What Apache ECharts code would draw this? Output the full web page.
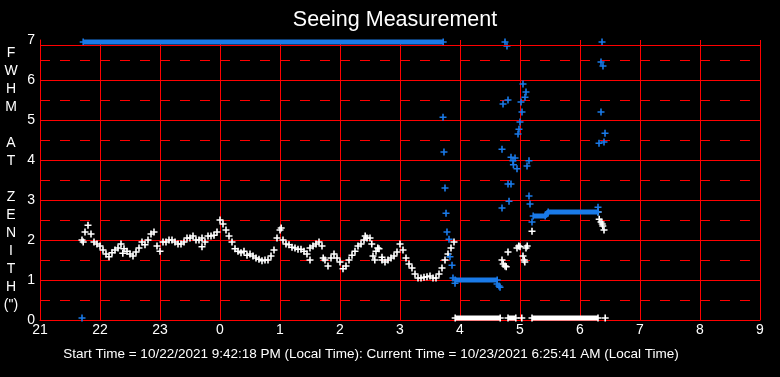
<!DOCTYPE html>
<html>
<head>
<meta charset="utf-8">
<script src="https://cdn.jsdelivr.net/npm/echarts@6/dist/echarts.min.js"></script>
<style>
  html, body { margin: 0; padding: 0; background: #000; }
  #seeing { width: 780px; height: 377px; }
</style>
</head>
<body>
<div id="seeing"></div>
<script>
// hours run 21 .. 33 (33 = 9 next morning), labels wrap at 24
var hourTicks = [21, 22, 23, 0, 1, 2, 3, 4, 5, 6, 7, 8, 9];

// main seeing curve, one value every 3 minutes from 21:42
var sampleStart = 21.70;
var sampleStep = 0.05;
var seeingFwhm = [
  2.0, 2.2, 2.37, 2.15, 1.95, 1.9, 1.85, 1.75, 1.65, 1.58,
  1.68, 1.75, 1.8, 1.9, 1.78, 1.72, 1.65, 1.6, 1.7, 1.8,
  1.95, 1.88, 2.0, 2.15, 2.2, 1.85, 1.72, 1.95, 1.95, 2.0,
  2.0, 1.95, 1.9, 1.9, 1.95, 2.05, 2.05, 2.1, 2.0, 2.0,
  2.05, 1.95, 2.1, 2.1, 2.12, 2.2, 2.5, 2.4, 2.25, 2.1,
  1.95, 1.78, 1.72, 1.68, 1.72, 1.62, 1.65, 1.6, 1.55, 1.52,
  1.48, 1.5, 1.5, 1.6, 1.75, 2.05, 2.25, 2.0, 1.9, 1.88,
  1.82, 1.8, 1.77, 1.77, 1.72, 1.65, 1.8, 1.85, 1.9, 1.95,
  1.85, 1.5, 1.35, 1.55, 1.65, 1.55, 1.45, 1.28, 1.35, 1.5,
  1.62, 1.72, 1.85, 1.9, 2.0, 2.05, 2.05, 1.6, 1.72, 1.78,
  1.5, 1.45, 1.5, 1.55, 1.6, 1.7, 1.9, 1.75, 1.55, 1.4,
  1.3, 1.15, 1.05, 1.05, 1.07, 1.08, 1.1, 1.05, 1.05, 1.15,
  1.3, 1.5, 1.65, 1.8, 1.95
];

// scattered white points [hour, fwhm]
var seeingExtra = [
  [21.72, 1.95], [22.38, 1.67], [23.70, 1.83], [25.02, 2.3], [25.50, 1.5],
  [25.72, 1.55], [26.42, 2.1], [26.53, 1.9], [26.58, 1.5], [26.63, 1.8],
  [26.70, 1.57],
  [28.70, 1.5], [28.72, 1.4], [28.75, 1.35], [28.77, 1.33], [28.80, 1.7],
  [28.95, 1.8], [28.98, 1.85], [29.00, 1.83], [29.05, 1.6], [29.07, 1.5],
  [29.08, 1.45], [29.10, 1.8], [29.12, 1.85], [29.20, 2.22],
  [30.30, 2.7], [30.32, 2.52], [30.35, 2.45], [30.37, 2.4], [30.38, 2.35], [30.40, 2.25]
];

// white points sitting on the floor
var seeingFloorRuns = [
  [[27.92, 0.05], [28.67, 0.05]],
  [[28.80, 0.05], [28.93, 0.05]],
  [[29.20, 0.05], [30.30, 0.05]]
];
var seeingFloorSingles = [[29.03, 0.05], [30.42, 0.05]];

// blue points
var blueRuns = [
  [[21.72, 6.95], [27.72, 6.95]],
  [[27.92, 1.0], [28.62, 1.0]],
  [[29.22, 2.6], [29.42, 2.6], [29.47, 2.7], [30.30, 2.7]]
];
var blueScatter = [
  [21.70, 0.05],
  [27.717, 5.07], [27.733, 4.2], [27.75, 3.3], [27.767, 2.67], [27.783, 2.2],
  [27.817, 2.02], [27.833, 1.58], [27.867, 1.37], [27.883, 1.05], [27.917, 0.92],
  [28.617, 0.9], [28.65, 0.85], [28.667, 0.82],
  [28.75, 6.95], [28.783, 6.85], [28.717, 5.4], [28.80, 5.5], [28.70, 4.27],
  [28.85, 4.07], [28.883, 3.98], [28.89, 3.88], [28.917, 4.05], [28.95, 3.78],
  [28.80, 3.4], [28.85, 3.4], [28.817, 2.97], [28.70, 2.8],
  [29.05, 5.9], [29.10, 5.7], [29.083, 5.57], [29.017, 5.45], [29.033, 5.2],
  [29.00, 4.95], [28.983, 4.77], [28.967, 4.65], [29.15, 3.98], [29.117, 3.85],
  [29.15, 3.1], [29.167, 2.9], [29.20, 2.45],
  [30.30, 2.82], [30.367, 6.95], [30.35, 6.45], [30.383, 6.35], [30.35, 5.2],
  [30.417, 4.67], [30.317, 4.42], [30.40, 4.45]
];

var WHITE = '#ffffff';
var BLUE = '#1a7ae8';
var RED = '#ff0000';
var FONT = 'Liberation Sans, Arial, sans-serif';
// plus sign, arms about 1.6px at size 7
var PLUS = 'path://M2.7,0H4.3V2.7H7V4.3H4.3V7H2.7V4.3H0V2.7H2.7Z';

var chart = echarts.init(document.getElementById('seeing'));

var curve = seeingFwhm.map(function (v, i) {
  return [sampleStart + i * sampleStep, v];
});

function bandSeries(data, color) {
  return {
    type: 'line',
    data: data,
    symbol: PLUS,
    symbolSize: 7,
    showSymbol: true,
    lineStyle: { color: color, width: 5 },
    itemStyle: { color: color },
    animation: false,
    silent: true
  };
}

function dotSeries(data, color) {
  return {
    type: 'scatter',
    data: data,
    symbol: PLUS,
    symbolSize: 7,
    itemStyle: { color: color, opacity: 1 },
    animation: false,
    silent: true
  };
}

var series = [];
var main = dotSeries(curve, WHITE);
main.markLine = {
  silent: true,
  symbol: 'none',
  label: { show: false },
  lineStyle: { color: RED, type: 'solid', width: 1 },
  data: [{ yAxis: 6.875 }]
};
series.push(main);
series.push(dotSeries(seeingExtra, WHITE));
series.push(dotSeries(seeingFloorSingles, WHITE));
seeingFloorRuns.forEach(function (r) { series.push(bandSeries(r, WHITE)); });
blueRuns.forEach(function (r) { series.push(bandSeries(r, BLUE)); });
series.push(dotSeries(blueScatter, BLUE));

var option = {
  backgroundColor: '#000',
  animation: false,
  grid: { left: 40, right: 20, top: 40, bottom: 57 },
  xAxis: {
    type: 'value',
    min: 21,
    max: 33,
    interval: 1,
    axisLine: { show: true, lineStyle: { color: RED, width: 1 } },
    axisTick: { show: false },
    axisLabel: {
      color: WHITE, fontSize: 14, fontFamily: FONT, margin: 3,
      formatter: function (v) { return String(hourTicks[Math.round(v - 21)]); }
    },
    splitLine: { show: true, lineStyle: { color: RED, width: 1 } }
  },
  yAxis: [
    {
      type: 'value',
      min: 0,
      max: 7,
      interval: 1,
      axisLine: { show: true, lineStyle: { color: RED, width: 1 } },
      axisTick: { show: false },
      axisLabel: { color: WHITE, fontSize: 14, fontFamily: FONT, margin: 5 },
      splitLine: { show: true, showMaxLine: false, lineStyle: { color: RED, width: 1 } }
    },
    {
      type: 'value',
      min: 0,
      max: 7,
      interval: 0.5,
      position: 'right',
      axisLine: { show: false },
      axisTick: { show: false },
      axisLabel: { show: false },
      splitLine: { show: true, showMaxLine: false, lineStyle: { color: RED, width: 1, type: [10, 10] } }
    }
  ],
  graphic: [
    {
      type: 'text', x: 395, y: 20, silent: true,
      style: { text: 'Seeing Measurement', fill: WHITE, font: '21.5px ' + FONT, align: 'center', verticalAlign: 'middle' }
    },
    {
      type: 'text', x: 11, y: 44, silent: true,
      style: {
        text: 'F\nW\nH\nM\n \nA\nT\n \nZ\nE\nN\nI\nT\nH\n(")',
        fill: WHITE, font: '14px ' + FONT, lineHeight: 18, align: 'center', verticalAlign: 'top'
      }
    },
    {
      type: 'text', x: 371, y: 354, silent: true,
      style: {
        text: 'Start Time = 10/22/2021 9:42:18 PM (Local Time): Current Time = 10/23/2021 6:25:41 AM (Local Time)',
        fill: WHITE, font: '13.5px ' + FONT, align: 'center', verticalAlign: 'middle'
      }
    }
  ],
  series: series
};

chart.setOption(option);
</script>
</body>
</html>
